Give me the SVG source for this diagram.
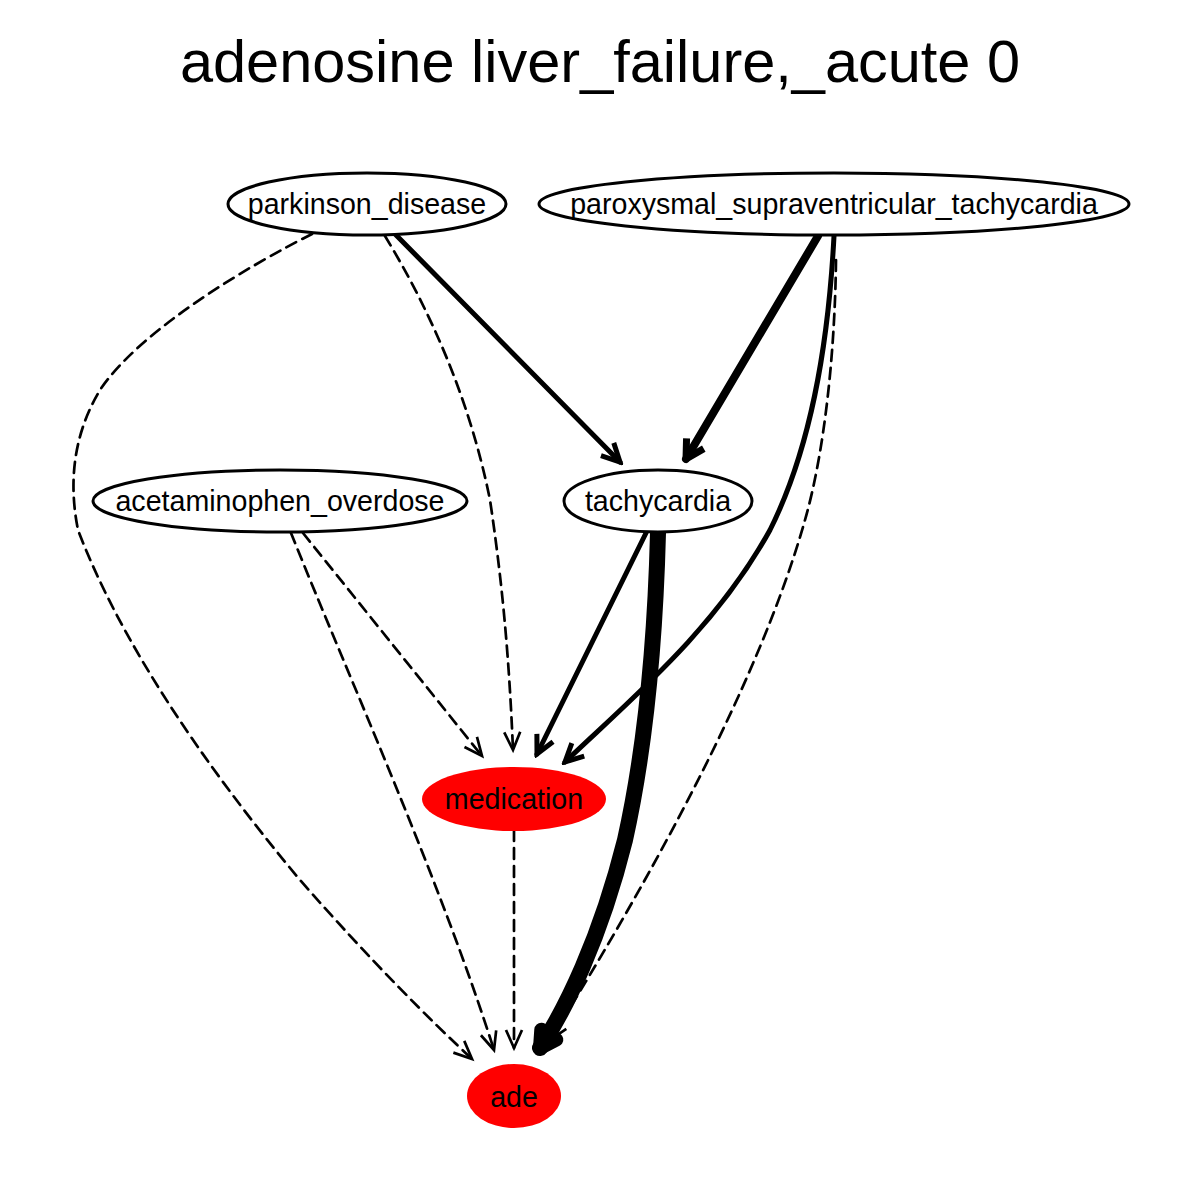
<svg xmlns="http://www.w3.org/2000/svg" width="1200" height="1200" viewBox="0 0 1200 1200">
<style>
text{font-family:"Liberation Sans",Arial,sans-serif;fill:#000;text-anchor:middle}
.n{fill:#fff;stroke:#000;stroke-width:3}
.r{fill:#ff0000;stroke:none}
.lbl{font-size:28.6px}
.e{fill:none;stroke:#000;stroke-linecap:round}
.d{stroke-width:2.7;stroke-dasharray:11,7}
</style>
<defs>
<marker id="a2" markerUnits="userSpaceOnUse" viewBox="-22 -12 26 24" markerWidth="26" markerHeight="24" refX="0" refY="0" orient="auto">
<path d="M-18,-8 L0,0 L-18,8" fill="none" stroke="#000" stroke-width="2.7"/>
</marker>
<marker id="a4" markerUnits="userSpaceOnUse" viewBox="-24 -14 28 28" markerWidth="28" markerHeight="28" refX="0" refY="0" orient="auto">
<path d="M-18,-9 L0,0 L-18,9" fill="none" stroke="#000" stroke-width="5"/>
</marker>
<marker id="a7" markerUnits="userSpaceOnUse" viewBox="-26 -16 32 32" markerWidth="32" markerHeight="32" refX="0" refY="0" orient="auto">
<path d="M-18,-10 L0,0 L-18,10" fill="none" stroke="#000" stroke-width="7" stroke-linejoin="round"/>
</marker>
<marker id="a14" markerUnits="userSpaceOnUse" viewBox="-30 -20 36 40" markerWidth="36" markerHeight="40" refX="0" refY="0" orient="auto">
<path d="M-16,-9 L0,0 L-16,9 Z" fill="#000" stroke="#000" stroke-width="14" stroke-linejoin="round"/>
</marker>
</defs>
<rect width="1200" height="1200" fill="#fff"/>
<text x="600" y="82" font-size="59.5">adenosine liver_failure,_acute 0</text>
<g id="edges">
<path class="e d" marker-end="url(#a2)" d="M312,234 C250,265 140,330 100,390 C70,440 70,490 78,530 C120,640 200,760 300,880 C370,960 430,1020 472,1059"/>
<path class="e d" marker-end="url(#a2)" d="M385,236 C430,310 470,400 490,500 C505,600 510,680 513,750"/>
<path class="e" stroke-width="5" marker-end="url(#a4)" d="M396,235 L620,462"/>
<path class="e" stroke-width="8" marker-end="url(#a7)" d="M818,236 L686,459"/>
<path class="e" stroke-width="5" marker-end="url(#a4)" d="M834,236 C828,350 810,450 770,530 C715,630 630,700 565,762"/>
<path class="e d" marker-end="url(#a2)" d="M836,260 C835,350 825,450 805,520 C760,680 650,880 550,1040"/>
<path class="e d" marker-end="url(#a2)" d="M303,533 L482,756"/>
<path class="e d" marker-end="url(#a2)" d="M291,533 C350,680 440,880 494,1050"/>
<path class="e" stroke-width="5" marker-end="url(#a4)" d="M646,533 L537,754"/>
<path class="e" stroke-width="16" marker-end="url(#a14)" d="M658,533 C655,650 645,750 625,840 C600,940 565,1010 540,1048"/>
<path class="e d" marker-end="url(#a2)" d="M514,830 L514,1048"/>
</g>
<g id="parkinson_disease"><ellipse class="n" cx="367" cy="204" rx="139" ry="31"/><text class="lbl" x="367" y="214">parkinson_disease</text></g>
<g id="paroxysmal_supraventricular_tachycardia"><ellipse class="n" cx="834" cy="204" rx="295" ry="31"/><text class="lbl" x="834" y="214">paroxysmal_supraventricular_tachycardia</text></g>
<g id="acetaminophen_overdose"><ellipse class="n" cx="280" cy="501" rx="187" ry="31"/><text class="lbl" x="280" y="511">acetaminophen_overdose</text></g>
<g id="tachycardia"><ellipse class="n" cx="658" cy="501" rx="94" ry="31"/><text class="lbl" x="658" y="511">tachycardia</text></g>
<g id="medication"><ellipse class="r" cx="514" cy="799" rx="92" ry="32"/><text class="lbl" x="514" y="809">medication</text></g>
<g id="ade"><ellipse class="r" cx="514" cy="1096" rx="47" ry="32"/><text class="lbl" x="514" y="1107">ade</text></g>
</svg>
